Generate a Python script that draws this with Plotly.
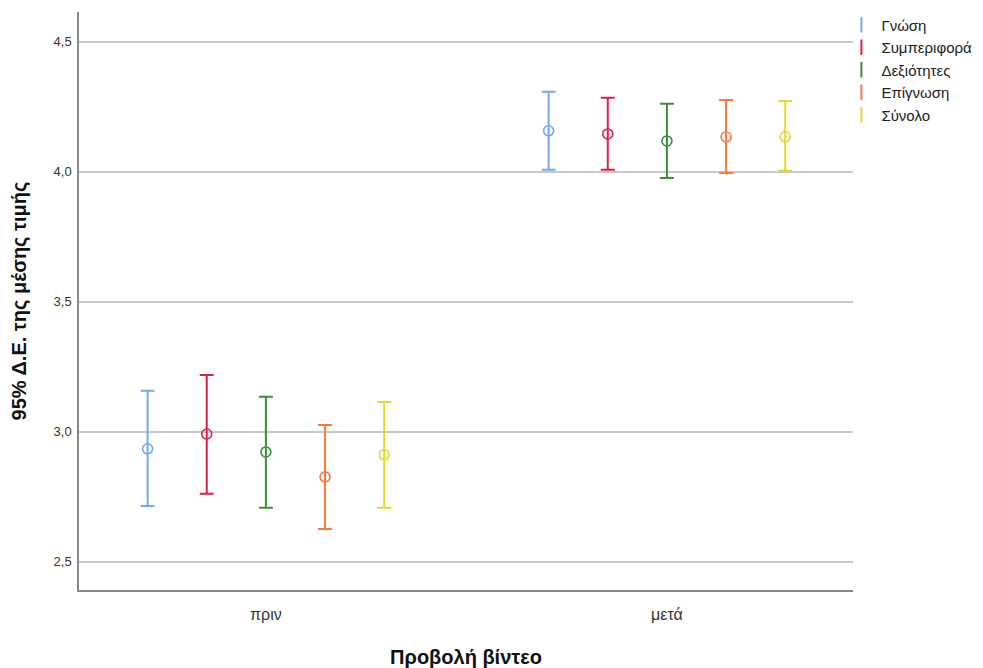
import plotly.graph_objects as go

categories = ["πριν", "μετά"]
series = ["Γνώση", "Συμπεριφορά", "Δεξιότητες", "Επίγνωση", "Σύνολο"]
colors = ["#74a9f0", "#dc1f4c", "#3a8f35", "#fa7a3c", "#e6d72a"]

means = {
    "Γνώση":       [2.935, 4.158],
    "Συμπεριφορά": [2.992, 4.146],
    "Δεξιότητες":  [2.923, 4.119],
    "Επίγνωση":    [2.827, 4.135],
    "Σύνολο":      [2.912, 4.135],
}
upper = {
    "Γνώση":       [3.158, 4.308],
    "Συμπεριφορά": [3.219, 4.285],
    "Δεξιότητες":  [3.135, 4.262],
    "Επίγνωση":    [3.027, 4.277],
    "Σύνολο":      [3.115, 4.273],
}
lower = {
    "Γνώση":       [2.715, 4.008],
    "Συμπεριφορά": [2.762, 4.008],
    "Δεξιότητες":  [2.708, 3.977],
    "Επίγνωση":    [2.627, 3.996],
    "Σύνολο":      [2.708, 4.004],
}

y_ticks = [2.5, 3.0, 3.5, 4.0, 4.5]

fig = go.Figure()
step = 0.1475
n = len(series)
for i, (s, c) in enumerate(zip(series, colors)):
    off = (i - (n - 1) / 2) * step
    xs = [k + off for k in range(len(categories))]
    m = means[s]
    fig.add_trace(go.Scatter(
        x=xs, y=m, mode="markers", showlegend=False, name=s,
        marker=dict(symbol="circle-open", size=10, color=c, line=dict(width=1.6, color=c)),
        error_y=dict(type="data", symmetric=False,
                     array=[u - v for u, v in zip(upper[s], m)],
                     arrayminus=[v - l for v, l in zip(m, lower[s])],
                     color=c, thickness=2, width=7),
        cliponaxis=False,
    ))
    fig.add_trace(go.Scatter(
        x=[None], y=[None], mode="markers", name=s, showlegend=True,
        marker=dict(symbol="line-ns-open", size=11, color=c, line=dict(width=2, color=c)),
    ))

fig.update_layout(
    width=983, height=668,
    margin=dict(l=79, r=130, t=12, b=78, autoexpand=False),
    paper_bgcolor="white", plot_bgcolor="white",
    separators=", ",
    font=dict(family="Liberation Sans, Arial, sans-serif", color="#222222", size=13),
    showlegend=True,
    legend=dict(x=0.985, y=1.006, xanchor="left", yanchor="top",
                font=dict(size=15, color="#222222"), itemwidth=30,
                tracegroupgap=0, bgcolor="rgba(0,0,0,0)"),
    xaxis=dict(
        range=[-0.466, 1.464], tickmode="array", tickvals=[0, 1], ticktext=categories,
        showgrid=False, zeroline=False, showline=True, linecolor="#888888", linewidth=1.5,
        ticks="", tickfont=dict(size=16, color="#333333"), ticklabelstandoff=9,
        automargin=False,
        title=dict(text="<b>Προβολή βίντεο</b>", font=dict(size=20, color="#111111"), standoff=30),
    ),
    yaxis=dict(
        range=[2.392, 4.615], tickmode="array", tickvals=y_ticks,
        tickformat=".1f", showgrid=True, gridcolor="#c8c8c8", gridwidth=1.5,
        zeroline=False, showline=True, linecolor="#888888", linewidth=1.5,
        ticks="", tickfont=dict(size=13, color="#333333"), ticklabelstandoff=3,
        automargin=False,
        title=dict(text="<b>95% Δ.Ε. της μέσης τιμής</b>", font=dict(size=20, color="#111111"), standoff=22),
    ),
)

fig.write_html("out.html")
